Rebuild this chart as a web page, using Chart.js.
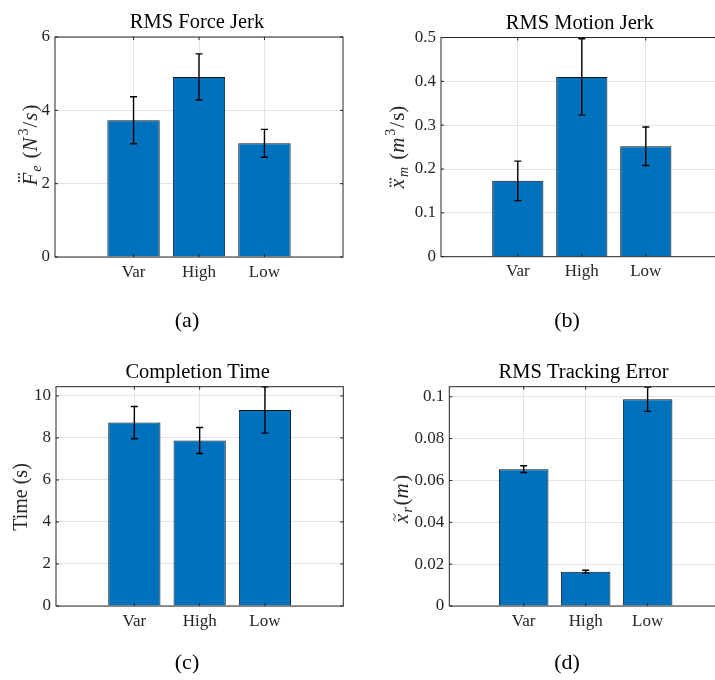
<!DOCTYPE html>
<html>
<head>
<meta charset="utf-8">
<script src="https://cdn.jsdelivr.net/npm/chart.js@4/dist/chart.umd.min.js"></script>
<style>
  html, body { margin: 0; padding: 0; background: #fff; overflow: hidden; width: 715px; height: 680px; }
  canvas.panel { position: absolute; }
</style>
</head>
<body>
<canvas id="chartA" class="panel" style="left:0;top:0" width="360" height="340"></canvas>
<canvas id="chartB" class="panel" style="left:360px;top:0" width="375" height="340"></canvas>
<canvas id="chartC" class="panel" style="left:0;top:340px" width="360" height="340"></canvas>
<canvas id="chartD" class="panel" style="left:360px;top:340px" width="375" height="340"></canvas>
<script>
// conditions on the x axis, placed at x = 1, 2, 3
const groups = ["Var", "High", "Low"];
const groupPos = [1, 2, 3];

// (a) RMS force jerk
const forceJerk = [3.73, 4.91, 3.10];
const forceJerkErr = [0.64, 0.63, 0.38];
const forceTicks = [0, 2, 4, 6];
const forceMax = 6;

// (b) RMS motion jerk
const motionJerk = [0.173, 0.410, 0.252];
const motionJerkErr = [0.045, 0.087, 0.044];
const motionTicks = [0, 0.1, 0.2, 0.3, 0.4, 0.5];
const motionMax = 0.5;

// (c) completion time
const completionTime = [8.73, 7.88, 9.33];
const completionTimeErr = [0.77, 0.62, 1.10];
const timeTicks = [0, 2, 4, 6, 8, 10];
const timeMax = 10.44;

// (d) RMS tracking error
const trackingError = [0.0654, 0.0164, 0.0988];
const trackingErrorErr = [0.0016, 0.0007, 0.0058];
const trackingTicks = [0, 0.02, 0.04, 0.06, 0.08, 0.1];
const trackingMax = 0.1048;

const FONT = "'Liberation Serif', 'Times New Roman', serif";
const INK = "#262626";
const GRID = "#e3e3e3";
const BAR = "#0072BD";

// draws a rotated y label made of differently styled pieces
function drawRich(ctx, cx, cy, segs) {
  ctx.save();
  ctx.translate(cx, cy);
  ctx.rotate(-Math.PI / 2);
  ctx.fillStyle = INK;
  ctx.strokeStyle = INK;
  ctx.textAlign = "left";
  ctx.textBaseline = "alphabetic";
  let total = 0;
  segs.forEach(s => {
    ctx.font = s.font;
    s.w = ctx.measureText(s.t).width + (s.pre || 0) + (s.kern || 0);
    total += s.w;
  });
  let x = -total / 2;
  segs.forEach(s => {
    ctx.font = s.font;
    const x0 = x + (s.pre || 0);
    ctx.fillText(s.t, x0, s.dy || 0);
    const mid = x0 + ctx.measureText(s.t).width * 0.62;
    if (s.accent === "dddot") {
      const ay = -(s.top || 12) - 4;
      [-3.6, 0, 3.6].forEach(d => {
        ctx.beginPath();
        ctx.arc(mid + d, ay, 1.05, 0, Math.PI * 2);
        ctx.fill();
      });
    }
    if (s.accent === "tilde") {
      const ay = -(s.top || 9) - 4;
      ctx.lineWidth = 1;
      ctx.beginPath();
      ctx.moveTo(mid - 4, ay + 0.8);
      ctx.bezierCurveTo(mid - 2, ay - 2.4, mid - 0.6, ay + 0.2, mid + 0.5, ay + 0.6);
      ctx.bezierCurveTo(mid + 2, ay + 1.3, mid + 2.8, ay - 0.4, mid + 4, ay - 1.3);
      ctx.stroke();
    }
    x += s.w;
  });
  ctx.restore();
}

const big = "21px " + FONT;
const bigIt = "italic 21px " + FONT;
const small = "14px " + FONT;
const smallIt = "italic 14px " + FONT;

const labelForce = [
  { t: "F", font: bigIt, accent: "dddot", top: 14, kern: 1 },
  { t: "e", font: smallIt, dy: 4, kern: 7 },
  { t: "(", font: big },
  { t: "N", font: bigIt, kern: 2 },
  { t: "3", font: small, dy: -9, kern: 1 },
  { t: "/", font: big, kern: 1 },
  { t: "s", font: bigIt, kern: 1 },
  { t: ")", font: big }
];
const labelMotion = [
  { t: "x", font: bigIt, accent: "dddot", top: 9.5, kern: 2 },
  { t: "m", font: smallIt, dy: 4, kern: 7 },
  { t: "(", font: big },
  { t: "m", font: bigIt, kern: 2 },
  { t: "3", font: small, dy: -9, kern: 1 },
  { t: "/", font: big, kern: 1 },
  { t: "s", font: big },
  { t: ")", font: big }
];
const labelTime = [{ t: "Time (s)", font: "20px " + FONT }];
const labelTracking = [
  { t: "x", font: bigIt, accent: "tilde", top: 9.5, kern: 1.5 },
  { t: "r", font: smallIt, dy: 4, kern: 1.5 },
  { t: "(", font: big },
  { t: "m", font: bigIt, kern: 1.5 },
  { t: ")", font: big }
];

// error bars, axes box, inward ticks, title and labels
function decor(opt) {
  return {
    id: "decor",
    afterDatasetsDraw(chart) {
      const ctx = chart.ctx;
      const ys = chart.scales.y, xs = chart.scales.x;
      const a = chart.chartArea;
      ctx.save();
      // error bars
      ctx.strokeStyle = "#000";
      ctx.lineWidth = 1.4;
      chart.getDatasetMeta(0).data.forEach((bar, i) => {
        const v = opt.values[i], e = opt.errors[i];
        const yTop = ys.getPixelForValue(v + e);
        const yBot = ys.getPixelForValue(v - e);
        ctx.beginPath();
        ctx.moveTo(bar.x, yTop); ctx.lineTo(bar.x, yBot);
        ctx.moveTo(bar.x - 3.5, yTop); ctx.lineTo(bar.x + 3.5, yTop);
        ctx.moveTo(bar.x - 3.5, yBot); ctx.lineTo(bar.x + 3.5, yBot);
        ctx.stroke();
      });
      // box
      ctx.strokeStyle = INK;
      ctx.lineWidth = 1;
      ctx.strokeRect(a.left, a.top, a.right - a.left, a.bottom - a.top);
      // inward tick marks
      ctx.beginPath();
      opt.ticks.forEach(t => {
        const y = ys.getPixelForValue(t);
        ctx.moveTo(a.left, y); ctx.lineTo(a.left + 3, y);
        ctx.moveTo(a.right, y); ctx.lineTo(a.right - 3, y);
      });
      groupPos.forEach(g => {
        const x = xs.getPixelForValue(g);
        ctx.moveTo(x, a.bottom); ctx.lineTo(x, a.bottom - 3);
        ctx.moveTo(x, a.top); ctx.lineTo(x, a.top + 3);
      });
      ctx.stroke();
      // title
      ctx.fillStyle = "#000";
      ctx.font = "20.5px " + FONT;
      ctx.textAlign = "center";
      ctx.textBaseline = "alphabetic";
      ctx.fillText(opt.title, (a.left + a.right) / 2 - 2, a.top - 9);
      // sub-figure letter
      ctx.font = "22px " + FONT;
      ctx.fillText(opt.letter, opt.letterPos[0], opt.letterPos[1]);
      ctx.restore();
      drawRich(ctx, opt.labelPos[0], opt.labelPos[1], opt.label);
    }
  };
}

function panel(id, opt) {
  const canvas = document.getElementById(id);
  const W = canvas.width, H = canvas.height;
  const [left, top, right, bottom] = opt.area;
  const tickFont = { family: FONT, size: 17 };
  return new Chart(canvas, {
    type: "bar",
    data: {
      datasets: [{
        data: opt.values.map((v, i) => ({ x: groupPos[i], y: v })),
        backgroundColor: BAR,
        borderColor: "#101010",
        borderWidth: 1,
        barPercentage: 0.8,
        categoryPercentage: 1
      }]
    },
    options: {
      responsive: false,
      animation: false,
      events: [],
      layout: { padding: { left: 0, top: top, right: W - right, bottom: 0 } },
      plugins: { legend: { display: false }, tooltip: { enabled: false } },
      scales: {
        x: {
          type: "linear", min: -0.2, max: 4.2, offset: false,
          afterFit: s => { s.height = H - bottom; },
          afterBuildTicks: s => { s.ticks = groupPos.map(v => ({ value: v })); },
          ticks: { callback: v => groups[v - 1], color: INK, font: tickFont, padding: 5, maxRotation: 0, autoSkip: false },
          grid: { color: GRID, drawTicks: false, offset: false },
          border: { display: false }
        },
        y: {
          min: 0, max: opt.ymax,
          afterFit: s => { s.width = left; },
          afterBuildTicks: s => { s.ticks = opt.ticks.map(v => ({ value: v })); },
          ticks: { callback: v => String(v), color: INK, font: tickFont, padding: 5 },
          grid: { color: GRID, drawTicks: false },
          border: { display: false }
        }
      }
    },
    plugins: [decor(opt)]
  });
}

panel("chartA", {
  values: forceJerk, errors: forceJerkErr, ticks: forceTicks, ymax: forceMax,
  area: [55, 37, 343, 257], title: "RMS Force Jerk",
  letter: "(a)", letterPos: [187, 327], label: labelForce, labelPos: [37, 145]
});
panel("chartB", {
  values: motionJerk, errors: motionJerkErr, ticks: motionTicks, ymax: motionMax,
  area: [81, 37.5, 362.6, 256.7], title: "RMS Motion Jerk",
  letter: "(b)", letterPos: [207, 327], label: labelMotion, labelPos: [44, 147]
});
panel("chartC", {
  values: completionTime, errors: completionTimeErr, ticks: timeTicks, ymax: timeMax,
  area: [56, 46.7, 343.3, 266], title: "Completion Time",
  letter: "(c)", letterPos: [187, 329], label: labelTime, labelPos: [27, 157]
});
panel("chartD", {
  values: trackingError, errors: trackingErrorErr, ticks: trackingTicks, ymax: trackingMax,
  area: [89.3, 46.7, 362, 266], title: "RMS Tracking Error",
  letter: "(d)", letterPos: [207, 329], label: labelTracking, labelPos: [48, 159]
});
</script>
</body>
</html>
